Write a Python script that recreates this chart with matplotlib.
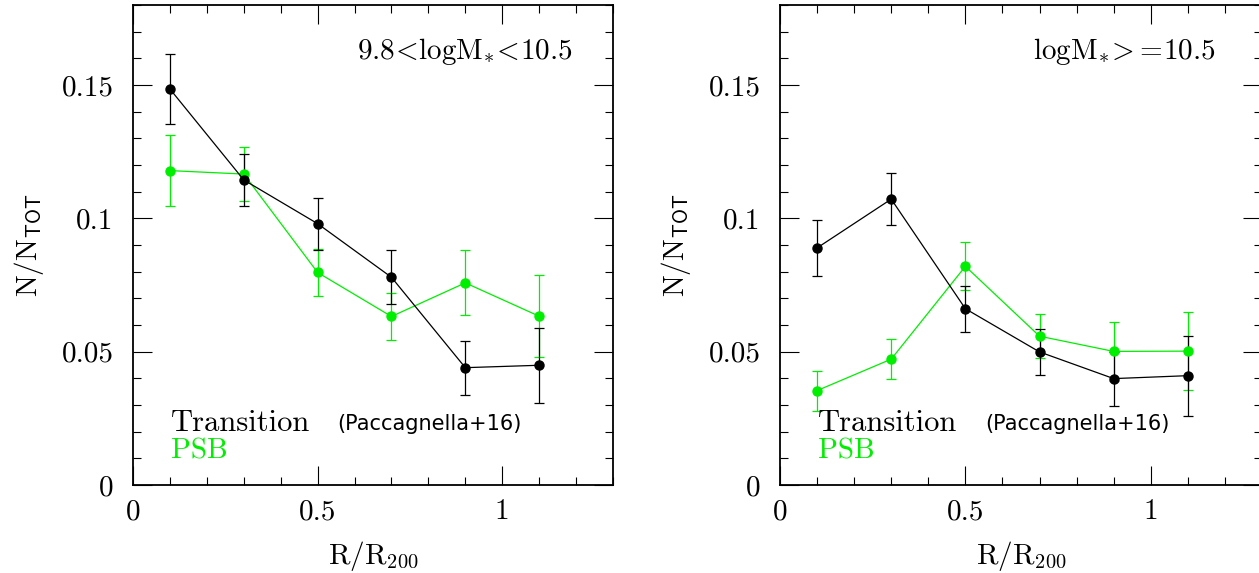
import matplotlib
matplotlib.use("Agg")
import matplotlib.pyplot as plt
from matplotlib.ticker import MultipleLocator, FuncFormatter

plt.rcParams['mathtext.fontset'] = 'cm'
plt.rcParams['font.family'] = 'cmr10'
plt.rcParams['axes.formatter.use_mathtext'] = True

# radial bins
r_bins = [0.1, 0.3, 0.5, 0.7, 0.9, 1.1]

# 9.8 < logM < 10.5
trans_low = [0.1485, 0.1144, 0.0980, 0.0779, 0.0440, 0.0449]
trans_low_err = [0.0131, 0.0096, 0.0097, 0.0102, 0.0101, 0.0141]
psb_low = [0.1179, 0.1166, 0.0797, 0.0632, 0.0758, 0.0633]
psb_low_err = [0.0132, 0.0102, 0.0087, 0.0089, 0.0122, 0.0153]

# logM >= 10.5
trans_high = [0.0889, 0.1072, 0.0661, 0.0499, 0.0399, 0.0410]
trans_high_err = [0.0105, 0.0098, 0.0087, 0.0087, 0.0101, 0.0150]
psb_high = [0.0354, 0.0472, 0.0820, 0.0558, 0.0501, 0.0502]
psb_high_err = [0.0075, 0.0074, 0.0090, 0.0083, 0.0110, 0.0145]

panel_labels = [r'$9.8\!<\!\mathrm{logM}_{*}\!<\!10.5$', r'$\mathrm{logM}_{*}\!>\!=\!10.5$']

GREEN = '#00ee00'
FS = 21


def fmt(v, pos):
    return '%g' % round(v, 3)


def panel(ax, trans, trans_err, psb, psb_err, label, label_x):
    ax.errorbar(r_bins, psb, yerr=psb_err, color=GREEN, marker='o', ms=6.5,
                lw=0.9, elinewidth=0.9, capsize=3.5, capthick=0.9)
    ax.errorbar(r_bins, trans, yerr=trans_err, color='black', marker='o', ms=6.5,
                lw=0.9, elinewidth=0.9, capsize=3.5, capthick=0.9)
    ax.set_xlim(0, 1.3)
    ax.set_ylim(0, 0.18)
    ax.xaxis.set_major_locator(MultipleLocator(0.5))
    ax.xaxis.set_minor_locator(MultipleLocator(0.1))
    ax.yaxis.set_major_locator(MultipleLocator(0.05))
    ax.yaxis.set_minor_locator(MultipleLocator(0.01))
    ax.xaxis.set_major_formatter(FuncFormatter(fmt))
    ax.yaxis.set_major_formatter(FuncFormatter(fmt))
    ax.tick_params(which='both', direction='in', top=True, right=True, width=0.8)
    ax.tick_params(which='major', length=13.5, labelsize=FS)
    ax.tick_params(axis='y', which='major', pad=14)
    ax.tick_params(axis='x', which='major', pad=10)
    ax.tick_params(which='minor', length=6)
    for sp in ax.spines.values():
        sp.set_linewidth(1.3)
    ax.set_xlabel(r'$\mathrm{R/R}_{\mathsf{200}}$', fontsize=FS, labelpad=10)
    ax.set_ylabel(r'$\mathrm{N/N}_{\mathsf{TOT}}$', fontsize=FS, labelpad=11)
    ax.text(label_x, 0.1627, label, fontsize=FS, ha='right', va='center')
    ax.text(0.103, 0.0232, 'Transition', fontsize=FS + 1, ha='left', va='center')
    ax.text(0.553, 0.0228, '(Paccagnella+16)', fontsize=15, ha='left', va='center',
            family='DejaVu Sans')
    ax.text(0.103, 0.0127, 'PSB', fontsize=FS, ha='left', va='center', color=GREEN)


fig = plt.figure(figsize=(12.59, 5.73), dpi=100)
ax1 = fig.add_axes([133 / 1259, 88 / 573, 480 / 1259, 480 / 573])
ax2 = fig.add_axes([780 / 1259, 88 / 573, 482 / 1259, 480 / 573])

panel(ax1, trans_low, trans_low_err, psb_low, psb_low_err, panel_labels[0], 1.19)
panel(ax2, trans_high, trans_high_err, psb_high, psb_high_err, panel_labels[1], 1.175)

fig.savefig('out.png', dpi=100)
